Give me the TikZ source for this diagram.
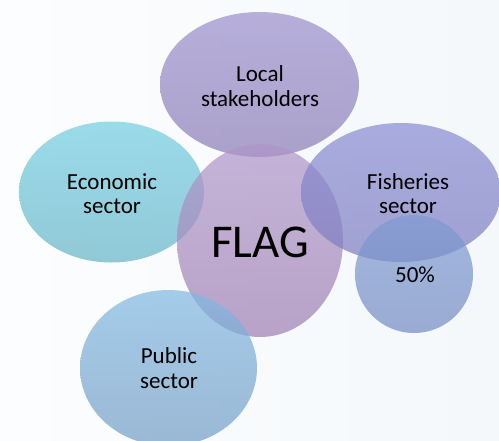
\documentclass[tikz,border=0pt]{standalone}
\usepackage{fontspec}
\setmainfont{Carlito}
\usetikzlibrary{shapes.geometric}
\definecolor{bgL}{RGB}{252,253,254}
\definecolor{bgR}{RGB}{244,248,251}
\definecolor{locT}{RGB}{155,142,205}
\definecolor{locB}{RGB}{138,124,182}
\definecolor{flagT}{RGB}{176,149,201}
\definecolor{flagB}{RGB}{158,126,178}
\definecolor{ecoT}{RGB}{114,206,226}
\definecolor{ecoB}{RGB}{101,179,198}
\definecolor{fisT}{RGB}{136,139,211}
\definecolor{fisB}{RGB}{124,124,191}
\definecolor{pctT}{RGB}{126,155,211}
\definecolor{pctB}{RGB}{115,139,194}
\definecolor{pubT}{RGB}{128,184,225}
\definecolor{pubB}{RGB}{114,156,196}
\tikzset{
  blob/.style={ellipse, inner sep=0pt, draw=none, fill opacity=0.7},
  lbl/.style={anchor=base, inner sep=0pt, text=black, font=\fontsize{23}{25}\selectfont},
  biglbl/.style={anchor=base, inner sep=0pt, text=black, font=\fontsize{47}{50}\selectfont}
}
\begin{document}
\begin{tikzpicture}[x=1pt,y=-1pt]
\useasboundingbox (0,0) rectangle (499,440);
\shade[left color=bgL, right color=bgR] (0,0) rectangle (499,440);
\node[blob, minimum width=199pt, minimum height=145pt, top color=locT, bottom color=locB] (local) at (259.5,84.5) {};
\node[blob, minimum width=185pt, minimum height=141pt, top color=ecoT, bottom color=ecoB] (econ) at (111.5,192) {};
\node[blob, minimum width=166pt, minimum height=193pt, top color=flagT, bottom color=flagB] (flag) at (260,240.5) {};
\node[blob, minimum width=200pt, minimum height=139pt, top color=fisT, bottom color=fisB] (fish) at (401,192.5) {};
\node[blob, minimum width=118pt, minimum height=118pt, top color=pctT, bottom color=pctB] (pct) at (414,274) {};
\node[blob, minimum width=177pt, minimum height=156pt, top color=pubT, bottom color=pubB] (pub) at (168.5,368) {};
\node[lbl] (tlocal1) at (260,81) {Local};
\node[lbl] (tlocal2) at (260,106.5) {stakeholders};
\node[lbl] (tecon1) at (112,189.3) {Economic};
\node[lbl] (tecon2) at (112,213.3) {sector};
\node[lbl] (tfish1) at (408,189.3) {Fisheries};
\node[lbl] (tfish2) at (408,213.3) {sector};
\node[lbl] (tpct) at (415,282) {50\%};
\node[lbl] (tpub1) at (169,363) {Public};
\node[lbl] (tpub2) at (169,388) {sector};
\node[biglbl] (tflag) at (260,257.7) {FLAG};
\end{tikzpicture}
\end{document}
